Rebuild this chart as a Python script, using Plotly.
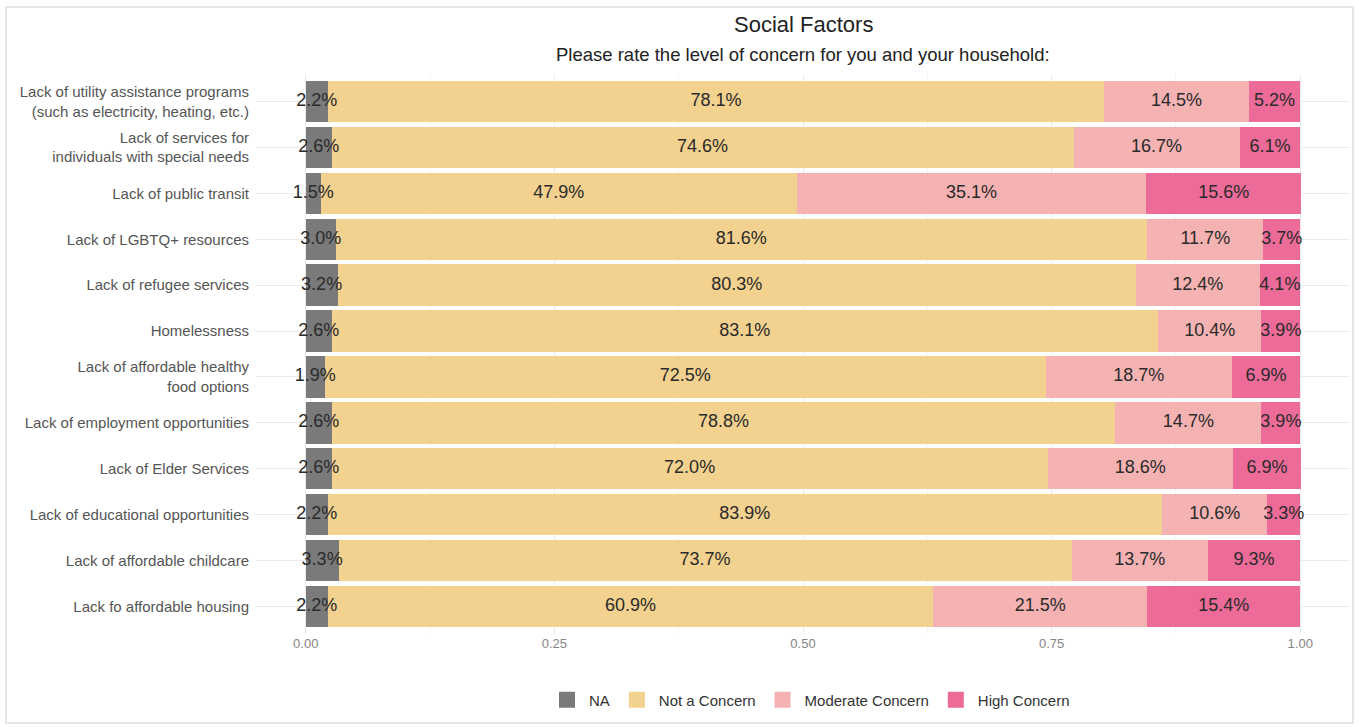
import plotly.graph_objects as go

categories = [
    "Lack of utility assistance programs<br>(such as electricity, heating, etc.)",
    "Lack of services for<br>individuals with special needs",
    "Lack of public transit",
    "Lack of LGBTQ+ resources",
    "Lack of refugee services",
    "Homelessness",
    "Lack of affordable healthy<br>food options",
    "Lack of employment opportunities",
    "Lack of Elder Services",
    "Lack of educational opportunities",
    "Lack of affordable childcare",
    "Lack fo affordable housing",
]

na_pct = [2.2, 2.6, 1.5, 3.0, 3.2, 2.6, 1.9, 2.6, 2.6, 2.2, 3.3, 2.2]
not_concern_pct = [78.1, 74.6, 47.9, 81.6, 80.3, 83.1, 72.5, 78.8, 72.0, 83.9, 73.7, 60.9]
moderate_pct = [14.5, 16.7, 35.1, 11.7, 12.4, 10.4, 18.7, 14.7, 18.6, 10.6, 13.7, 21.5]
high_pct = [5.2, 6.1, 15.6, 3.7, 4.1, 3.9, 6.9, 3.9, 6.9, 3.3, 9.3, 15.4]

series = [
    ("NA", na_pct, "#7a7a7a"),
    ("Not a Concern", not_concern_pct, "#f3d18f"),
    ("Moderate Concern", moderate_pct, "#f5b2b2"),
    ("High Concern", high_pct, "#ec6b98"),
]

tick_vals = [0, 0.25, 0.5, 0.75, 1.0]
tick_text = ["0.00", "0.25", "0.50", "0.75", "1.00"]

FONT = "Liberation Sans, Arial, sans-serif"

fig = go.Figure()
for name, vals, color in series:
    fig.add_trace(go.Bar(
        name=name,
        y=categories,
        x=[v / 100 for v in vals],
        orientation="h",
        marker=dict(color=color, line=dict(width=0)),
        showlegend=False,
        hovertemplate="%{y}<br>" + name + ": %{x:.1%}<extra></extra>",
    ))

# segment labels drawn on top of all bars, centred on each stacked segment
cum = [0.0] * len(categories)
for name, vals, color in series:
    mids = []
    for i, v in enumerate(vals):
        mids.append(cum[i] + v / 200)
        cum[i] += v / 100
    fig.add_trace(go.Scatter(
        x=mids, y=categories, mode="text",
        text=[f"{v:.1f}%" for v in vals],
        textposition="middle center",
        textfont=dict(family=FONT, size=18, color="#2a2a2a"),
        showlegend=False, hoverinfo="skip", cliponaxis=False,
    ))

# legend-only square swatches
for name, vals, color in series:
    fig.add_trace(go.Scatter(
        name=name, x=[None], y=[None], mode="markers",
        marker=dict(symbol="square", size=22, color=color),
        showlegend=True, hoverinfo="skip",
    ))

L, R, T, B = 256, 9, 74, 93
W, H = 1359, 727
pw = W - L - R
ph = H - T - B

fig.update_layout(
    barmode="stack",
    bargap=0.1,
    width=W,
    height=H,
    margin=dict(l=L, r=R, t=T, b=B),
    paper_bgcolor="white",
    plot_bgcolor="white",
    font=dict(family=FONT, color="#4d4d4d"),
    showlegend=True,
    legend=dict(
        orientation="h",
        x=(810 - L) / pw,
        xanchor="center",
        y=-(700 - (T + ph)) / ph,
        yanchor="middle",
        font=dict(size=15, color="#333333"),
        traceorder="normal",
        itemwidth=34,
    ),
    xaxis=dict(
        range=[-0.05, 1.05],
        tickvals=tick_vals,
        ticktext=tick_text,
        tickfont=dict(size=13, color="#858585"),
        showgrid=True,
        gridcolor="#ebebeb",
        gridwidth=1,
        zeroline=False,
        showline=False,
        ticks="",
        minor=dict(dtick=0.125, tick0=0, showgrid=True, gridcolor="#f4f4f4", gridwidth=1),
    ),
    yaxis=dict(
        categoryorder="array",
        categoryarray=categories,
        range=[len(categories) - 0.4, -0.6],
        tickfont=dict(size=15, color="#555555"),
        showgrid=True,
        gridcolor="#ebebeb",
        gridwidth=1,
        zeroline=False,
        showline=False,
        ticks="",
        ticklabelstandoff=6,
    ),
    annotations=[
        dict(text="Social Factors", xref="paper", yref="paper",
             x=0.5, y=1 + (T - 24) / ph, xanchor="center", yanchor="middle",
             showarrow=False, font=dict(size=22, color="#222222")),
        dict(text="Please rate the level of concern for you and your household:",
             xref="paper", yref="paper",
             x=0.5, y=1 + (T - 55) / ph, xanchor="center", yanchor="middle",
             showarrow=False, font=dict(size=18.5, color="#222222")),
    ],
    shapes=[
        dict(type="rect", xref="paper", yref="paper",
             x0=(6 - L) / pw, x1=(W - 6 - L) / pw,
             y0=-(H - 4 - (T + ph)) / ph, y1=1 + (T - 7) / ph,
             line=dict(color="#e6e6e6", width=2), fillcolor="rgba(0,0,0,0)", layer="below"),
    ],
)

fig.write_html(
    "out.html",
    config={"displayModeBar": False},
    post_script="document.body.style.margin='0';document.body.style.overflow='hidden';",
)
